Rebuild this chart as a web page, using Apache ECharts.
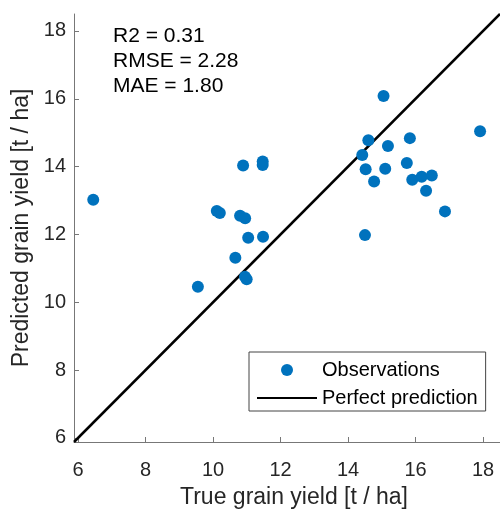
<!DOCTYPE html>
<html>
<head>
<meta charset="utf-8">
<script src="https://cdn.jsdelivr.net/npm/echarts@6/dist/echarts.min.js"></script>
<style>
  html, body { margin: 0; padding: 0; background: #fff; }
  #myScatter { width: 500px; height: 510px; }
</style>
</head>
<body>
<div id="myScatter"></div>
<script>
// 数据
const trueYield = [
  6.45, 10.89, 11.47, 11.47, 10.11, 10.2, 10.8, 10.95, 11.04, 11.48,
  10.66, 10.945, 10.995, 9.55, 15.05, 17.91, 14.6, 15.83, 15.18, 14.42,
  14.52, 15.1, 15.74, 14.77, 15.9, 16.18, 16.48, 16.31, 16.87, 14.5
];
const predYield = [
  13.02, 14.03, 14.15, 14.05, 12.69, 12.63, 12.55, 12.48, 11.9, 11.93,
  11.31, 10.75, 10.68, 10.46, 16.08, 15.04, 14.78, 14.84, 14.61, 14.34,
  13.92, 13.94, 14.11, 13.56, 13.61, 13.7, 13.74, 13.29, 12.68, 11.98
];
const axisMin = 5.88;
const axisMax = 18.5;
const tickValues = [6, 8, 10, 12, 14, 16, 18];
const perfectLine = [[axisMin, axisMin], [axisMax, axisMax]];
const statsLabels = ["R2 = 0.31", "RMSE = 2.28", "MAE = 1.80"];
const seriesNames = ["Observations", "Perfect prediction"];

const fontName = "Liberation Sans";

function makeAxis(name) {
  return {
    type: "value",
    min: axisMin,
    max: axisMax,
    name: name,
    nameLocation: "middle",
    nameTextStyle: {
      fontFamily: fontName,
      fontSize: 23,
      color: "#262626"
    },
    axisLine: {
      show: true,
      lineStyle: { color: "#777", width: 1 }
    },
    axisTick: {
      show: true,
      inside: true,
      length: 5,
      customValues: tickValues,
      lineStyle: { color: "#777" }
    },
    axisLabel: {
      customValues: tickValues,
      fontFamily: fontName,
      fontSize: 20,
      color: "#262626"
    },
    splitLine: { show: false }
  };
}

let xAxis = makeAxis("True grain yield [t / ha]");
xAxis.nameGap = 44;
xAxis.nameTextStyle.padding = [0, 0, 0, 14];
xAxis.axisLabel.margin = 18;

let yAxis = makeAxis("Predicted grain yield [t / ha]");
yAxis.nameGap = 41;
yAxis.nameRotate = 90;
yAxis.axisLabel.margin = 8;

let option = {
  backgroundColor: "#fff",
  animation: false,
  grid: {
    left: 74,
    right: 0,
    top: 14,
    bottom: 68,
    outerBoundsMode: "none"
  },
  xAxis: xAxis,
  yAxis: yAxis,
  legend: {
    data: [
      { name: seriesNames[0] },
      // 只显示线，不显示中间的点
      { name: seriesNames[1], itemStyle: { opacity: 0 } }
    ],
    orient: "vertical",
    left: 249,
    top: 352,
    padding: [8, 8, 3, 7],
    itemGap: 8,
    itemWidth: 60,
    itemHeight: 12,
    backgroundColor: "#fff",
    borderColor: "#444",
    borderWidth: 1,
    textStyle: {
      fontFamily: fontName,
      fontSize: 20,
      color: "#000"
    }
  },
  graphic: [
    {
      type: "text",
      left: 113,
      top: 24,
      style: {
        text: statsLabels.join("\n"),
        fontFamily: fontName,
        fontSize: 21,
        lineHeight: 25,
        fill: "#000"
      }
    }
  ],
  series: [
    {
      name: seriesNames[0],
      type: "scatter",
      symbol: "circle",
      symbolSize: 12,
      itemStyle: { color: "#0072BD", opacity: 1 },
      data: trueYield.map((x, i) => [x, predYield[i]]),
      z: 3
    },
    {
      name: seriesNames[1],
      type: "line",
      symbol: "none",
      lineStyle: { color: "#000", width: 2.5 },
      itemStyle: { color: "#000" },
      data: perfectLine,
      z: 2
    }
  ]
};

let myScatter = echarts.init(document.getElementById("myScatter"));
myScatter.setOption(option);
</script>
</body>
</html>
